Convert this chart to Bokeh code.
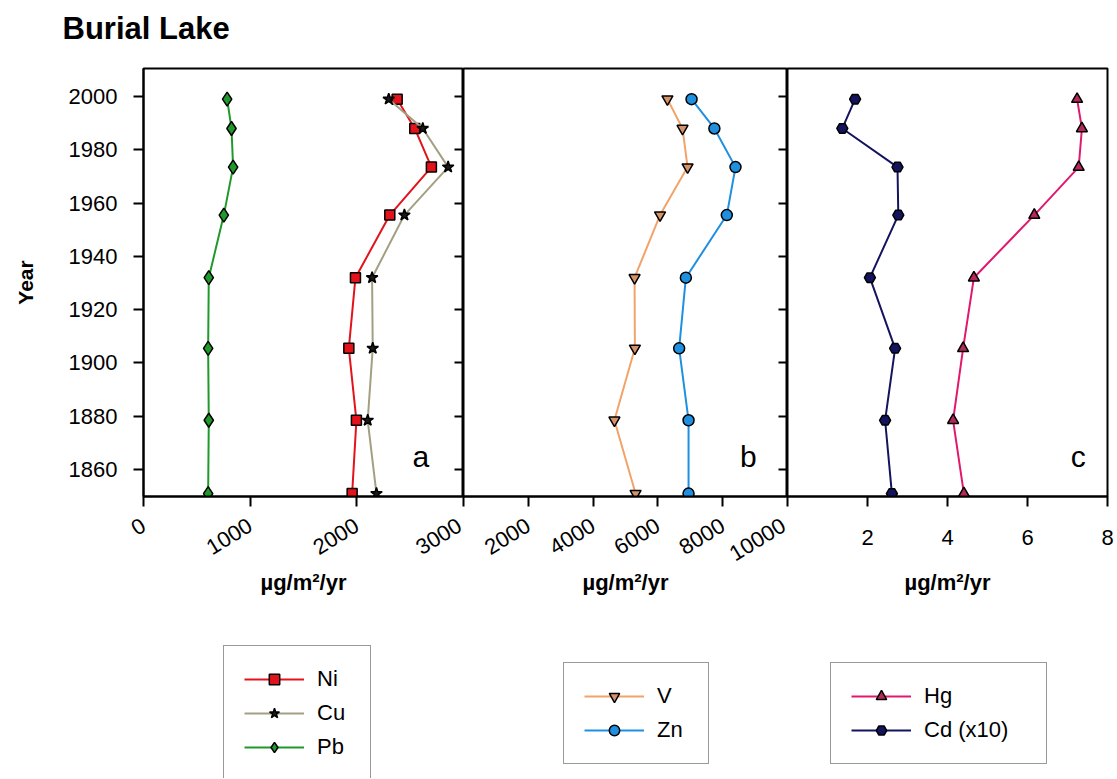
from bokeh.plotting import figure
from bokeh.models import Range1d, LinearAxis, FixedTicker, Legend, LegendItem, Label
from bokeh.layouts import row, column
from bokeh.embed import file_html
from bokeh.resources import INLINE

# ---- data ----
years = [1999, 1988, 1973.5, 1955.5, 1932, 1905.5, 1878.5, 1851]
ni = [2378, 2543, 2699, 2309, 1987, 1925, 1996, 1956]
cu = [2299, 2618, 2856, 2446, 2143, 2149, 2102, 2184]
pb = [784, 825, 840, 753, 612, 606, 612, 606]
v = [6294, 6760, 6916, 6066, 5280, 5290, 4658, 5311]
zn = [7039, 7743, 8395, 8127, 6863, 6656, 6946, 6946]
hg = [7.24, 7.36, 7.28, 6.17, 4.66, 4.39, 4.14, 4.41]
cd10 = [1.69, 1.37, 2.75, 2.77, 2.06, 2.69, 2.44, 2.61]

year_ticks = [1860, 1880, 1900, 1920, 1940, 1960, 1980, 2000]
ticks_a = [0, 1000, 2000, 3000]
ticks_b = [0, 2000, 4000, 6000, 8000, 10000]
ticks_c = [0, 2, 4, 6, 8]

# series styles: (label, line colour, marker, marker fill, marker size)
style_ni = ("Ni", "#e3121b", "square", "#e3121b", 10)
style_cu = ("Cu", "#a39f82", "star", "#1a1a1a", 12)
style_pb = ("Pb", "#1f9a2a", "diamond", "#1f9a2a", 14)
style_v = ("V", "#f2a36a", "inverted_triangle", "#d4936a", 11)
style_zn = ("Zn", "#1f8fe0", "circle", "#1f8fe0", 11)
style_hg = ("Hg", "#e0196e", "triangle", "#b4285a", 11)
style_cd = ("Cd (x10)", "#14145e", "hex", "#14145e", 11)

FONT = "Liberation Sans"
UNIT = "µg/m²/yr"
TITLE = "Burial Lake"
H_TITLE = 50
H_TOP = 590
H_BOT = 138
TOP = 18
FRAME_H = 428
NAN = float("nan")

yr = Range1d(1849.9, 2010.5)


def style_xaxis(p, ticks, hide_zero, rotated, label_standoff, axis_label_standoff):
    ax = p.xaxis[0]
    ax.ticker = FixedTicker(ticks=ticks, minor_ticks=[])
    ax.major_tick_out = 10
    ax.major_tick_in = 0
    ax.minor_tick_line_color = None
    ax.axis_line_width = 2
    ax.major_tick_line_width = 2
    ax.major_label_text_font = FONT
    ax.major_label_text_font_size = "22px"
    ax.major_label_text_color = "black"
    ax.major_label_standoff = label_standoff
    if rotated:
        ax.major_label_orientation = 0.55
    if hide_zero:
        ax.major_label_overrides = {0: ""}
    ax.axis_label = UNIT
    ax.axis_label_text_font = FONT
    ax.axis_label_text_font_style = "bold"
    ax.axis_label_text_font_size = "22px"
    ax.axis_label_text_color = "black"
    ax.axis_label_standoff = axis_label_standoff


def add_inner_right_axis(p):
    ax = LinearAxis(ticker=FixedTicker(ticks=year_ticks, minor_ticks=[]))
    ax.major_tick_in = 9
    ax.major_tick_out = 0
    ax.major_tick_line_width = 2
    ax.axis_line_width = 2
    ax.major_label_text_color = None
    ax.major_label_standoff = 0
    ax.minor_tick_line_color = None
    p.add_layout(ax, "right")


def base_fig(width, xr, bl, br, yloc):
    p = figure(width=width, height=H_TOP, x_range=xr, y_range=yr,
               output_backend="svg", toolbar_location=None,
               min_border_left=bl, min_border_right=br,
               min_border_top=TOP, min_border_bottom=H_TOP - TOP - FRAME_H,
               y_axis_location=yloc)
    p.grid.visible = False
    p.outline_line_color = "black"
    p.outline_line_width = 2
    p.background_fill_color = "white"
    p.border_fill_color = "white"
    return p


def blank_fig(width, height, left=0, top=0):
    f = figure(width=width, height=height, x_range=Range1d(0, 1), y_range=Range1d(0, 1),
               output_backend="svg", toolbar_location=None,
               min_border_left=left, min_border_right=0,
               min_border_top=top, min_border_bottom=0,
               x_axis_location=None, y_axis_location=None)
    f.grid.visible = False
    f.outline_line_color = None
    f.background_fill_color = "white"
    f.border_fill_color = "white"
    return f


def series(p, xs, st):
    _, lc, mk, fc, sz = st
    p.line(xs, years, line_color=lc, line_width=2)
    p.scatter(xs, years, marker=mk, size=sz, fill_color=fc,
              line_color="black", line_width=1.5)


def legend_fig(width, left, margin, label_width, styles):
    f = blank_fig(width, H_BOT, left, 5)
    items = []
    for lab, lc, mk, fc, sz in styles:
        # legend proxies: a single undefined point, so nothing is drawn in the frame
        rl = f.line(x=[NAN], y=[NAN], line_color=lc, line_width=2)
        rs = f.scatter(x=[NAN], y=[NAN], marker=mk, size=sz, fill_color=fc,
                       line_color="black", line_width=1.5)
        items.append(LegendItem(label=lab, renderers=[rl, rs]))
    leg = Legend(items=items, location="top_left", orientation="vertical",
                 padding=20, spacing=8, margin=margin,
                 glyph_width=60, glyph_height=26, label_height=26,
                 label_width=label_width,
                 label_standoff=13, label_text_font=FONT,
                 label_text_font_size="22px", label_text_color="black",
                 border_line_color="#333333", border_line_width=1.5,
                 background_fill_color="white", background_fill_alpha=1)
    f.add_layout(leg)
    return f


def panel_label(p, x, y, t):
    p.add_layout(Label(x=x, y=y, text=t, text_font=FONT,
                       text_font_size="30px", text_align="center",
                       text_baseline="middle", text_color="black"))


# ---- title row ----
tf = blank_fig(1115, H_TITLE)
tf.add_layout(Label(x=62, y=22, x_units="screen", y_units="screen", text=TITLE,
                    text_font=FONT, text_font_style="bold", text_font_size="31px",
                    text_align="left", text_baseline="middle", text_color="black"))

# ---- panel a ----
pa = base_fig(463, Range1d(0, 3000), 143, 0, "left")
ya = pa.yaxis[0]
ya.ticker = FixedTicker(ticks=year_ticks, minor_ticks=[])
ya.major_tick_out = 10
ya.major_tick_in = 0
ya.major_tick_line_width = 2
ya.axis_line_width = 2
ya.minor_tick_line_color = None
ya.major_label_text_font = FONT
ya.major_label_text_font_size = "22px"
ya.major_label_text_color = "black"
ya.major_label_standoff = 16
ya.axis_label = "Year"
ya.axis_label_text_font = FONT
ya.axis_label_text_font_style = "bold"
ya.axis_label_text_font_size = "21px"
ya.axis_label_text_color = "black"
ya.axis_label_standoff = 29
add_inner_right_axis(pa)
style_xaxis(pa, ticks_a, False, True, 17, 5)

series(pa, ni, style_ni)
series(pa, cu, style_cu)
series(pa, pb, style_pb)
panel_label(pa, 2600, 1865, "a")

# ---- panel b ----
pb_fig = base_fig(324, Range1d(0, 10000), 0, 0, None)
add_inner_right_axis(pb_fig)
style_xaxis(pb_fig, ticks_b, True, True, 17, -1)
series(pb_fig, v, style_v)
series(pb_fig, zn, style_zn)
panel_label(pb_fig, 8790, 1865, "b")

# ---- panel c ----
pc = base_fig(328, Range1d(0, 8), 0, 8, None)
style_xaxis(pc, ticks_c, True, False, 23, 22)
series(pc, hg, style_hg)
series(pc, cd10, style_cd)
panel_label(pc, 7.27, 1865, "c")

# ---- legends row ----
la = legend_fig(463, 223, 0, 33, [style_ni, style_cu, style_pb])
lb = legend_fig(324, 83, 17, 31, [style_v, style_zn])
lc = legend_fig(328, 26, 17, 102, [style_hg, style_cd])

layout = column(tf, row(pa, pb_fig, pc), row(la, lb, lc))
open("out.html", "w").write(file_html(layout, INLINE))
